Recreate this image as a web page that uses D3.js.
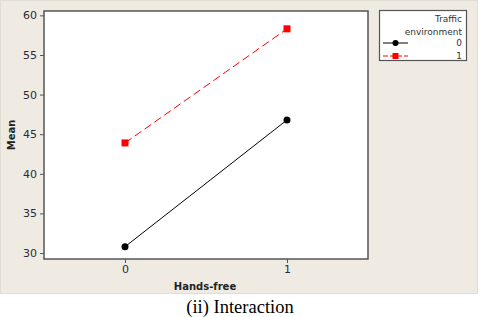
<!DOCTYPE html>
<html>
<head>
<meta charset="utf-8">
<script src="https://cdn.jsdelivr.net/npm/d3@7"></script>
<style>
  body { margin: 0; background: #fff; }
  text { font-family: "DejaVu Sans", Verdana, sans-serif; }
</style>
</head>
<body>
<svg id="svg" width="480" height="317"></svg>
<script>
// data
var handsFree = [0, 1];
var traffic0 = [30.8, 46.8];
var traffic1 = [43.9, 58.3];
var yTicks = [30, 35, 40, 45, 50, 55, 60];
var series = [
  { name: "0", values: traffic0, color: "#000", dash: null, shape: "circle" },
  { name: "1", values: traffic1, color: "#f00", dash: "8,4", shape: "square" }
];

var svg = d3.select("#svg");
var pl = 44, pr = 368, pt = 11, pb = 259;

// beige panel
svg.append("rect").attr("x", 0.5).attr("y", 0.5).attr("width", 477).attr("height", 293)
  .attr("fill", "#efebe3").attr("stroke", "#e2ddd3");

svg.append("rect").attr("x", pl).attr("y", pt).attr("width", pr - pl).attr("height", pb - pt)
  .attr("fill", "#fff").attr("stroke", "#555").attr("stroke-width", 1.5);

var x = d3.scaleLinear().domain([-0.5, 1.5]).range([pl, pr]);
var y = d3.scaleLinear().domain([29.25, 60.55]).range([pb, pt]);

var ya = svg.append("g").attr("transform", "translate(" + pl + ",0)")
  .call(d3.axisLeft(y).tickValues(yTicks).tickFormat(d3.format("d")).tickSize(4).tickPadding(3));
var xa = svg.append("g").attr("transform", "translate(0," + pb + ")")
  .call(d3.axisBottom(x).tickValues(handsFree).tickFormat(d3.format("d")).tickSize(4).tickPadding(2));
[ya, xa].forEach(function(a) {
  a.select(".domain").remove();
  a.selectAll("line").attr("stroke", "#555");
  a.selectAll("text").attr("fill", "#2a2a3a").style("font-size", "11px")
    .style("font-family", "Tahoma, 'DejaVu Sans', sans-serif");
});

svg.append("text").attr("x", 205).attr("y", 290).attr("text-anchor", "middle")
  .style("font-size", "10px").style("font-weight", "bold").attr("fill", "#222").text("Hands-free");
svg.append("text").attr("transform", "translate(15,135) rotate(-90)").attr("text-anchor", "middle")
  .style("font-size", "10px").style("font-weight", "bold").attr("fill", "#222").text("Mean");

var line = d3.line().x(function(d, i) { return x(handsFree[i]); }).y(function(d) { return y(d); });

series.forEach(function(s) {
  svg.append("path").datum(s.values).attr("d", line).attr("fill", "none")
    .attr("stroke", s.color).attr("stroke-width", 1).attr("stroke-dasharray", s.dash);
  s.values.forEach(function(v, i) {
    if (s.shape == "circle")
      svg.append("circle").attr("cx", x(handsFree[i])).attr("cy", y(v)).attr("r", 3.5).attr("fill", s.color);
    else
      svg.append("rect").attr("x", x(handsFree[i]) - 3.5).attr("y", y(v) - 3.5)
        .attr("width", 7).attr("height", 7).attr("fill", s.color);
  });
});

// legend
var lg = svg.append("g");
lg.append("rect").attr("x", 379.5).attr("y", 10.5).attr("width", 87).attr("height", 50)
  .attr("fill", "#fff").attr("stroke", "#555").attr("stroke-width", 1.2);
lg.append("text").attr("x", 462).attr("y", 22).attr("text-anchor", "end")
  .style("font-size", "9px").attr("fill", "#333").text("Traffic");
lg.append("text").attr("x", 462).attr("y", 35).attr("text-anchor", "end")
  .style("font-size", "9px").attr("fill", "#333").text("environment");
series.forEach(function(s, i) {
  var yy = 43 + i * 13;
  lg.append("line").attr("x1", 383).attr("x2", 408).attr("y1", yy).attr("y2", yy)
    .attr("stroke", s.color).attr("stroke-width", 1).attr("stroke-dasharray", s.dash ? "5,2" : null);
  if (s.shape == "circle")
    lg.append("circle").attr("cx", 395.5).attr("cy", yy).attr("r", 3).attr("fill", s.color);
  else
    lg.append("rect").attr("x", 392.5).attr("y", yy - 3).attr("width", 6).attr("height", 6).attr("fill", s.color);
  lg.append("text").attr("x", 462).attr("y", yy + 3).attr("text-anchor", "end")
    .style("font-size", "9px").attr("fill", "#333").text(s.name);
});

svg.append("text").attr("x", 240).attr("y", 313).attr("text-anchor", "middle")
  .style("font-family", "'Liberation Serif', 'Times New Roman', serif").style("font-size", "18.5px")
  .attr("fill", "#000").text("(ii) Interaction");
</script>
</body>
</html>
